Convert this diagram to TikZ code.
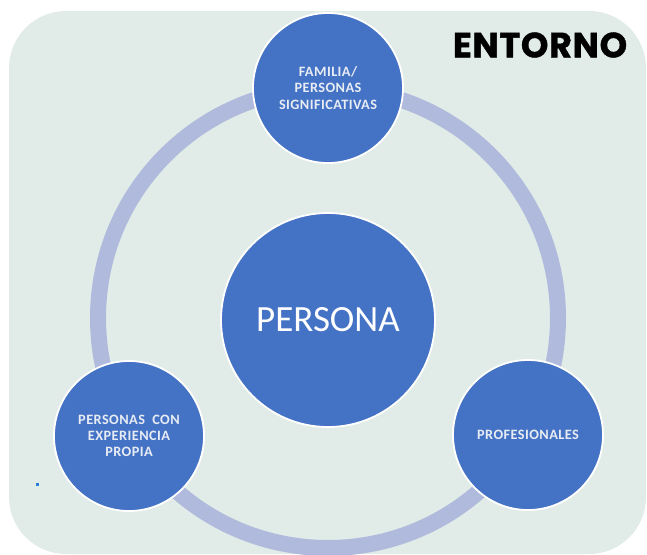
\documentclass[tikz,border=0pt]{standalone}
\usepackage{fontspec}
\setmainfont{Carlito}
\newfontfamily\smallfont{Carlito}[LetterSpace=3]
\newfontfamily\titlefont{Poppins}[LetterSpace=2, BoldFeatures={FakeBold=1.2}]
\definecolor{bgmint}{RGB}{225,236,233}
\definecolor{ringblue}{RGB}{175,186,220}
\definecolor{nodeblue}{RGB}{68,114,196}
\definecolor{dotblue}{RGB}{42,127,216}
\definecolor{labelwhite}{RGB}{232,236,244}
\tikzset{
  bubble/.style={circle, fill=nodeblue, draw=white, line width=1.8pt, minimum size=150pt, inner sep=0pt, text=labelwhite, align=center, font=\smallfont\bfseries\fontsize{14.3}{16.3}\selectfont},
  bigbubble/.style={bubble, minimum size=214pt, text=white, font=\mdseries\fontsize{37}{44}\selectfont},
  ringline/.style={draw=ringblue, line width=16pt},
}
\begin{document}
\begin{tikzpicture}[x=1pt,y=-1pt]
\useasboundingbox (0,0) rectangle (647,554);
\fill[bgmint, rounded corners=57pt] (9,11) rectangle (646,554);
\coordinate (ringc) at (328,318);
\draw[ringline] (ringc) circle (230pt);
\node[bigbubble] (persona) at (328,320) {PERSONA};
\node[bubble] (familia) at (328,88) {FAMILIA/\\PERSONAS\\SIGNIFICATIVAS};
\node[bubble] (experiencia) at (129,436) {PERSONAS~ CON\\EXPERIENCIA\\PROPIA};
\node[bubble] (profesionales) at (528,435) {PROFESIONALES};
\node[font=\titlefont\bfseries\fontsize{35}{38}\selectfont, text=black, inner sep=0pt] (entorno) at (540,45) {ENTORNO};
\fill[dotblue] (36,483) rectangle (38.5,485.5);
\end{tikzpicture}
\end{document}
